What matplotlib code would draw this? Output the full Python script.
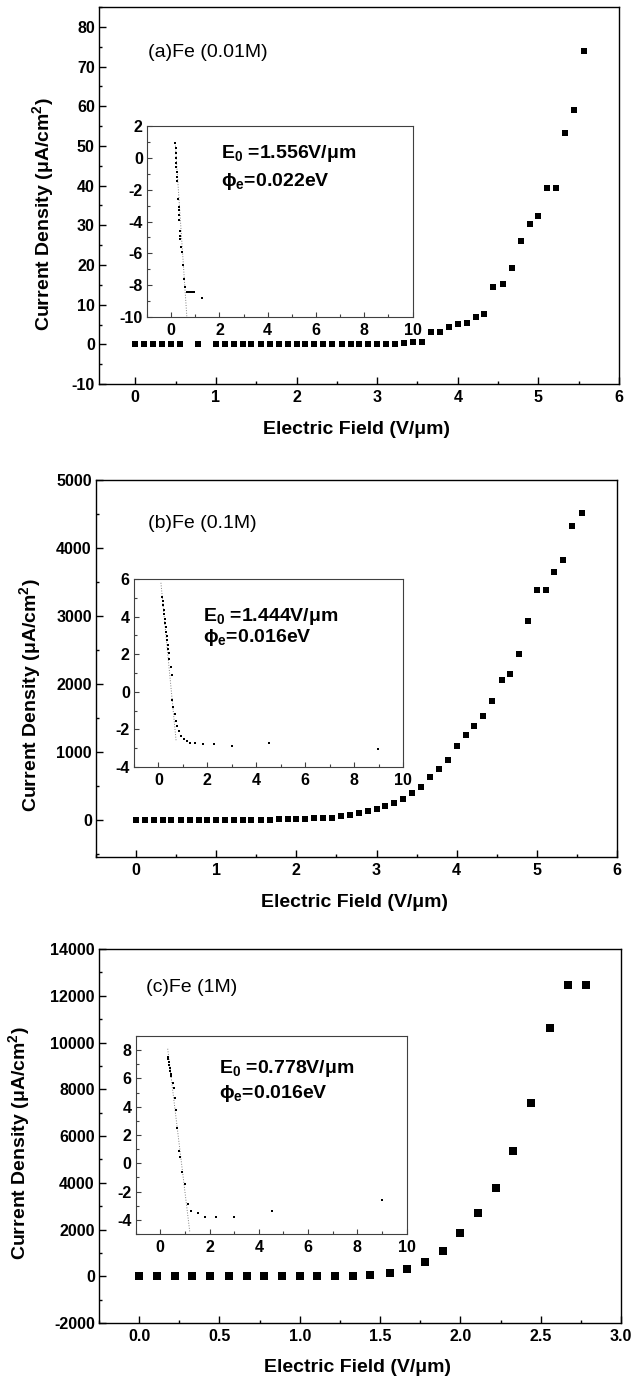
import matplotlib
matplotlib.use('Agg')
import matplotlib.pyplot as plt
from matplotlib.ticker import MultipleLocator

plt.rcParams['font.family'] = ['Liberation Sans', 'DejaVu Sans']
plt.rcParams['font.weight'] = 'bold'
plt.rcParams['axes.labelweight'] = 'bold'
plt.rcParams['mathtext.default'] = 'regular'
plt.rcParams['axes.unicode_minus'] = False


######################################################################
# data

# (a) Fe 0.01M  - J-E curve
field_a = [0.0, 0.11, 0.22, 0.33, 0.44, 0.56, 0.78,
           1.0, 1.11, 1.22, 1.33, 1.44, 1.56, 1.67, 1.78, 1.89, 2.0, 2.11, 2.22,
           2.33, 2.44, 2.56, 2.67, 2.78, 2.89, 3.0, 3.11, 3.22, 3.33, 3.44, 3.56,
           3.67, 3.78, 3.89, 4.0, 4.11, 4.22, 4.33, 4.44, 4.56, 4.67, 4.78, 4.89,
           5.0, 5.11, 5.22, 5.33, 5.44, 5.56]
current_a = [0, 0, 0, 0, 0, 0, 0,
             0, 0, 0, 0, 0, 0, 0, 0, 0, 0, 0, 0,
             0, 0, 0, 0, 0, 0, 0, 0.1, 0.2, 0.3, 0.5, 0.6,
             3.0, 3.1, 4.5, 5.1, 5.3, 6.9, 7.7, 14.5, 15.3, 19.3, 26.0, 30.4,
             32.3, 39.3, 39.3, 53.3, 59.0, 74.0]
# (a) inset - F-N plot
fn_x_a = [0.17, 0.18, 0.19, 0.2, 0.21, 0.22, 0.23, 0.24, 0.26, 0.29, 0.31, 0.32,
          0.33, 0.34, 0.36, 0.37, 0.38, 0.41, 0.43, 0.48, 0.54, 0.59, 0.65,
          0.72, 0.8, 0.88, 0.96, 1.27]
fn_y_a = [0.93, 0.6, 0.3, 0.0, -0.3, -0.6, -0.9, -1.2, -1.44, -2.6, -3.1, -3.3,
          -3.6, -3.9, -4.6, -4.9, -5.1, -5.6, -5.9, -6.7, -7.6, -8.1, -8.45,
          -8.4, -8.4, -8.4, -8.45, -8.8]
fit_x_a = [0.17, 0.65]
fit_y_a = [0.93, -10.0]

# (b) Fe 0.1M
field_b = [0.0, 0.11, 0.22, 0.33, 0.44, 0.56, 0.67, 0.78, 0.89, 1.0, 1.11, 1.22,
           1.33, 1.44, 1.56, 1.67, 1.78, 1.89, 2.0, 2.11, 2.22, 2.33, 2.44, 2.56,
           2.67, 2.78, 2.89, 3.0, 3.11, 3.22, 3.33, 3.44, 3.56, 3.67, 3.78, 3.89,
           4.0, 4.11, 4.22, 4.33, 4.44, 4.56, 4.67, 4.78, 4.89, 5.0, 5.11, 5.22,
           5.33, 5.44, 5.56]
current_b = [0, 0, 0, 0, 0, 0, 0, 0, 0, 0, 0, 0,
             0, 0, 0, 2, 4, 6, 10, 15, 18, 25, 30, 50,
             75, 95, 130, 160, 200, 240, 310, 390, 480, 630, 740, 880,
             1080, 1250, 1380, 1520, 1740, 2050, 2150, 2440, 2920, 3380, 3380, 3640,
             3830, 4320, 4510]
fn_x_b = [0.16, 0.18, 0.2, 0.22, 0.24, 0.26, 0.28, 0.3, 0.32, 0.34, 0.36, 0.38,
          0.4, 0.42, 0.43, 0.5, 0.54, 0.57, 0.61, 0.66, 0.72, 0.77, 0.84, 0.92,
          1.03, 1.17, 1.3, 1.5, 1.82, 2.26, 2.99, 4.5, 8.99]
fn_y_b = [5.07, 4.84, 4.6, 4.37, 4.14, 3.9, 3.67, 3.44, 3.2, 2.97, 2.74, 2.5,
          2.27, 2.04, 1.77, 1.3, 0.88, -0.46, -0.82, -1.18, -1.54, -1.8, -2.07, -2.34,
          -2.52, -2.64, -2.73, -2.73, -2.75, -2.79, -2.87, -2.71, -3.02]
fit_x_b = [0.1, 0.72]
fit_y_b = [5.8, -2.6]

# (c) Fe 1M
field_c = [0.0, 0.11, 0.22, 0.33, 0.44, 0.56, 0.67, 0.78, 0.89, 1.0, 1.11, 1.22,
           1.33, 1.44, 1.56, 1.67, 1.78, 1.89, 2.0, 2.11, 2.22, 2.33, 2.44, 2.56,
           2.67, 2.78]
current_c = [0, 0, 0, 0, 0, 0, 0, 0, 0, 0, 0, 0,
             0, 40, 130, 310, 610, 1100, 1850, 2690, 3760, 5340, 7420, 10630,
             12480, 12480]
fn_x_c = [0.31, 0.33, 0.35, 0.37, 0.39, 0.41, 0.43, 0.45, 0.5, 0.55, 0.6, 0.65,
          0.69, 0.76, 0.81, 0.89, 0.99, 1.12, 1.25, 1.53, 1.81, 2.27, 3.01, 4.52,
          9.01]
fn_y_c = [7.55, 7.35, 7.15, 6.95, 6.75, 6.55, 6.35, 6.15, 5.7, 5.3, 4.6, 3.8,
          2.5, 0.85, 0.42, -0.61, -1.45, -2.86, -3.36, -3.52, -3.76, -3.76, -3.76, -3.36,
          -2.59]
fit_x_c = [0.3, 1.2]
fit_y_c = [8.1, -4.9]

labels = ['(a)Fe (0.01M)', '(b)Fe (0.1M)', '(c)Fe (1M)']
e0_text = ['E$_0$ =1.556V/\u03bcm', 'E$_0$ =1.444V/\u03bcm', 'E$_0$ =0.778V/\u03bcm']
phi_text = ['\u03d5$_e$=0.022eV', '\u03d5$_e$=0.016eV', '\u03d5$_e$=0.016eV']


######################################################################
# helpers

def style_axes(ax, xmaj, xmin, ymaj, ymin, lw=1.0, major=5, minor=2.5, color='k'):
    ax.xaxis.set_major_locator(MultipleLocator(xmaj))
    ax.xaxis.set_minor_locator(MultipleLocator(xmin))
    ax.yaxis.set_major_locator(MultipleLocator(ymaj))
    ax.yaxis.set_minor_locator(MultipleLocator(ymin))
    ax.tick_params(which='both', direction='in', top=False, right=False,
                   width=lw, labelsize=11.5, color=color)
    ax.tick_params(which='major', length=major)
    ax.tick_params(which='minor', length=minor)
    ax.tick_params(axis='x', pad=4)
    ax.tick_params(axis='y', pad=3)
    for s in ax.spines.values():
        s.set_linewidth(lw)
        s.set_edgecolor(color)


def draw_panel(main_pos, inset_pos, field, current, ms, xlim, ylim, xt, yt,
               fx, fy, fitx, fity, ilim, ityt, label, label_xy, ylab_xy,
               e0, phi, txt_xy):
    ax = fig.add_axes(main_pos)
    ax.plot(field, current, 's', color='k', ms=ms, mew=0)
    ax.set_xlim(xlim)
    ax.set_ylim(ylim)
    style_axes(ax, xt[0], xt[1], yt[0], yt[1])
    ax.set_xlabel('Electric Field (V/\u03bcm)', fontsize=14)
    ax.set_ylabel('Current Density (\u03bcA/cm$^2$)', fontsize=14)
    ax.xaxis.set_label_coords(0.496, -0.097)
    ax.yaxis.set_label_coords(ylab_xy[0], ylab_xy[1])
    ax.text(label_xy[0], label_xy[1], label, transform=ax.transAxes,
            fontsize=14, fontweight='normal', ha='left', va='center')

    ins = fig.add_axes(inset_pos)
    ins.plot(fitx, fity, ':', color='0.5', lw=0.7)
    ins.plot(fx, fy, 's', color='k', ms=1.9, mew=0)
    ins.set_xlim(-1, 10)
    ins.set_ylim(ilim)
    style_axes(ins, 2, 1, ityt, ityt / 2, lw=0.8, major=3.5, minor=2, color='0.25')
    ins.text(txt_xy[0], txt_xy[1], e0, transform=ins.transAxes,
             fontsize=14, ha='left', va='center')
    ins.text(txt_xy[0], txt_xy[2], phi, transform=ins.transAxes,
             fontsize=14, ha='left', va='center')
    return ax, ins


######################################################################
# figure

fig = plt.figure(figsize=(6.34, 13.79), dpi=100)

draw_panel([0.1562, 0.7215, 0.8202, 0.2734], [0.2319, 0.7701, 0.4188, 0.1385],
           field_a, current_a, 4.6, (-0.45, 6), (-10, 85), (1, 0.5), (10, 5),
           fn_x_a, fn_y_a, fit_x_a, fit_y_a, (-10, 2), 2,
           labels[0], (0.094, 0.88), (-0.082, 0.45),
           e0_text[0], phi_text[0], (0.279, 0.855, 0.712))

draw_panel([0.1514, 0.3785, 0.8218, 0.2734], [0.2114, 0.4438, 0.4243, 0.1363],
           field_b, current_b, 4.8, (-0.5, 6), (-550, 5000), (1, 0.5), (1000, 500),
           fn_x_b, fn_y_b, fit_x_b, fit_y_b, (-4, 6), 2,
           labels[1], (0.10, 0.886), (-0.102, 0.43),
           e0_text[1], phi_text[1], (0.257, 0.80, 0.69))

draw_panel([0.1562, 0.0406, 0.8233, 0.2712], [0.2140, 0.1051, 0.4274, 0.1436],
           field_c, current_c, 5.2, (-0.25, 3.0), (-2000, 14000), (0.5, 0.25), (2000, 1000),
           fn_x_c, fn_y_c, fit_x_c, fit_y_c, (-5, 9), 2,
           labels[2], (0.09, 0.898), (-0.128, 0.48),
           e0_text[2], phi_text[2], (0.307, 0.835, 0.709))

fig.savefig('out.png', dpi=100)
